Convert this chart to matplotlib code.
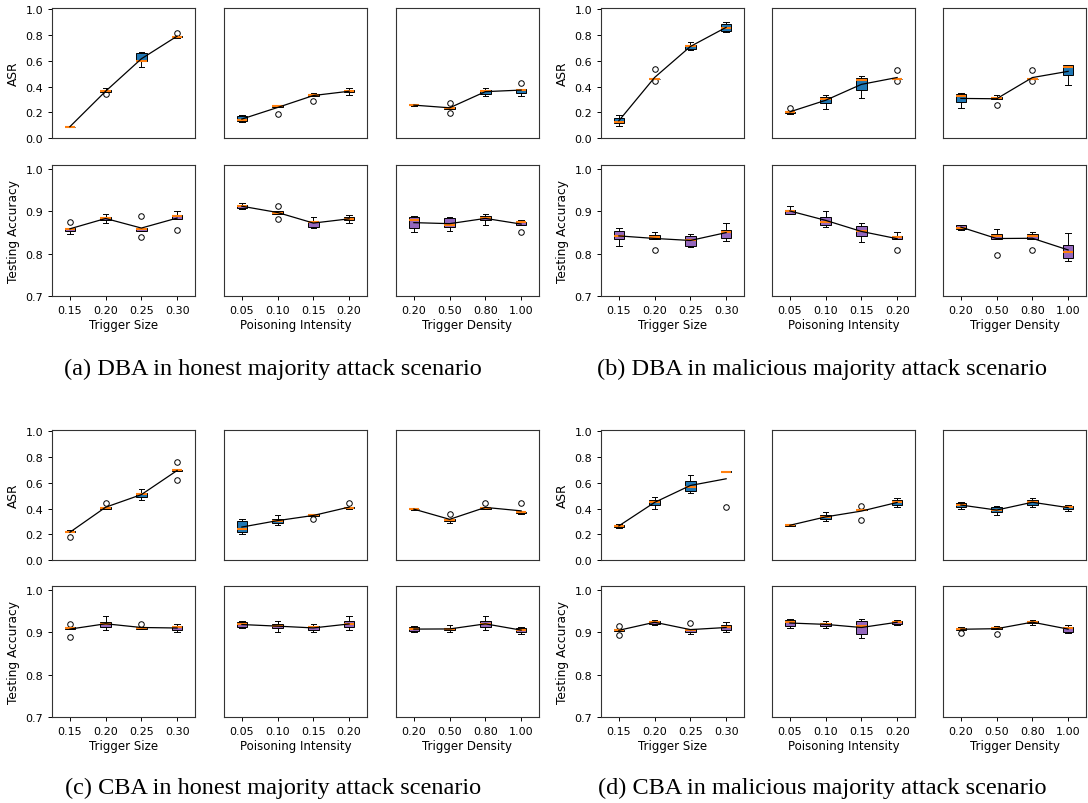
import matplotlib.pyplot as plt
import numpy as np

# --- DATA (5 runs per setting, read off the boxes) ---
# (a) DBA, honest majority
dba_h_asr_size = [[0.085, 0.087, 0.088, 0.089, 0.090], [0.34, 0.36, 0.362, 0.37, 0.385],
                  [0.55, 0.60, 0.60, 0.66, 0.667], [0.78, 0.785, 0.787, 0.79, 0.815]]
dba_h_asr_int = [[0.125, 0.13, 0.136, 0.17, 0.175], [0.187, 0.24, 0.246, 0.255, 0.258],
                 [0.29, 0.33, 0.335, 0.345, 0.35], [0.335, 0.355, 0.364, 0.372, 0.39]]
dba_h_asr_den = [[0.25, 0.253, 0.256, 0.258, 0.26], [0.195, 0.228, 0.236, 0.242, 0.272],
                 [0.33, 0.345, 0.364, 0.372, 0.39], [0.33, 0.348, 0.375, 0.378, 0.43]]
dba_h_acc_size = [[0.847, 0.855, 0.858, 0.861, 0.874], [0.872, 0.88, 0.884, 0.888, 0.893],
                  [0.84, 0.855, 0.858, 0.862, 0.889], [0.857, 0.883, 0.89, 0.892, 0.9]]
dba_h_acc_int = [[0.906, 0.908, 0.912, 0.916, 0.92], [0.883, 0.895, 0.897, 0.9, 0.913],
                 [0.862, 0.864, 0.875, 0.876, 0.886], [0.872, 0.879, 0.882, 0.888, 0.892]]
dba_h_acc_den = [[0.852, 0.861, 0.88, 0.886, 0.889], [0.853, 0.863, 0.869, 0.884, 0.887],
                 [0.869, 0.88, 0.884, 0.89, 0.895], [0.852, 0.869, 0.874, 0.876, 0.88]]

# (b) DBA, malicious majority
dba_m_asr_size = [[0.095, 0.12, 0.125, 0.155, 0.175], [0.44, 0.457, 0.459, 0.461, 0.535],
                  [0.68, 0.69, 0.715, 0.725, 0.745], [0.82, 0.835, 0.858, 0.885, 0.9]]
dba_m_asr_int = [[0.188, 0.194, 0.2, 0.202, 0.232], [0.228, 0.275, 0.305, 0.322, 0.335],
                 [0.31, 0.375, 0.45, 0.47, 0.478], [0.443, 0.456, 0.459, 0.462, 0.53]]
dba_m_asr_den = [[0.232, 0.28, 0.33, 0.345, 0.35], [0.258, 0.3, 0.308, 0.322, 0.336],
                 [0.441, 0.456, 0.459, 0.462, 0.53], [0.415, 0.487, 0.552, 0.565, 0.57]]
dba_m_acc_size = [[0.819, 0.835, 0.843, 0.853, 0.861], [0.808, 0.836, 0.84, 0.845, 0.852],
                  [0.817, 0.819, 0.833, 0.842, 0.846], [0.831, 0.838, 0.852, 0.856, 0.873]]
dba_m_acc_int = [[0.894, 0.895, 0.9, 0.904, 0.913], [0.863, 0.869, 0.875, 0.886, 0.902],
                 [0.828, 0.843, 0.855, 0.865, 0.873], [0.808, 0.836, 0.84, 0.843, 0.851]]
dba_m_acc_den = [[0.857, 0.859, 0.862, 0.868, 0.869], [0.796, 0.836, 0.843, 0.847, 0.858],
                 [0.808, 0.836, 0.841, 0.846, 0.852], [0.782, 0.79, 0.803, 0.821, 0.849]]

# (c) CBA, honest majority
cba_h_asr_size = [[0.18, 0.215, 0.22, 0.228, 0.235], [0.395, 0.40, 0.405, 0.41, 0.44],
                  [0.47, 0.49, 0.51, 0.52, 0.55], [0.62, 0.695, 0.70, 0.702, 0.76]]
cba_h_asr_int = [[0.20, 0.22, 0.24, 0.30, 0.32], [0.27, 0.29, 0.30, 0.32, 0.35],
                 [0.32, 0.345, 0.35, 0.355, 0.36], [0.398, 0.402, 0.405, 0.41, 0.44]]
cba_h_asr_den = [[0.392, 0.394, 0.395, 0.397, 0.398], [0.29, 0.30, 0.31, 0.32, 0.36],
                 [0.395, 0.40, 0.403, 0.405, 0.44], [0.36, 0.362, 0.372, 0.375, 0.44]]
cba_h_acc_size = [[0.89, 0.908, 0.91, 0.912, 0.92], [0.906, 0.914, 0.92, 0.925, 0.938],
                  [0.908, 0.909, 0.91, 0.911, 0.921], [0.90, 0.906, 0.912, 0.915, 0.92]]
cba_h_acc_int = [[0.91, 0.913, 0.92, 0.924, 0.927], [0.902, 0.91, 0.915, 0.92, 0.928],
                 [0.90, 0.906, 0.912, 0.915, 0.921], [0.905, 0.912, 0.92, 0.926, 0.938]]
cba_h_acc_den = [[0.901, 0.904, 0.908, 0.912, 0.915], [0.90, 0.905, 0.908, 0.911, 0.918],
                 [0.905, 0.913, 0.92, 0.926, 0.938], [0.896, 0.902, 0.906, 0.91, 0.914]]

# (d) CBA, malicious majority
cba_m_asr_size = [[0.25, 0.255, 0.265, 0.275, 0.28], [0.40, 0.43, 0.45, 0.468, 0.49],
                  [0.52, 0.535, 0.57, 0.61, 0.66], [0.41, 0.68, 0.685, 0.69, 0.69]]
cba_m_asr_int = [[0.265, 0.268, 0.27, 0.272, 0.274], [0.30, 0.32, 0.335, 0.35, 0.37],
                 [0.31, 0.385, 0.39, 0.395, 0.42], [0.41, 0.43, 0.45, 0.465, 0.48]]
cba_m_asr_den = [[0.40, 0.415, 0.43, 0.44, 0.45], [0.35, 0.37, 0.39, 0.41, 0.42],
                 [0.41, 0.43, 0.45, 0.468, 0.485], [0.38, 0.395, 0.41, 0.42, 0.43]]
cba_m_acc_size = [[0.895, 0.903, 0.905, 0.907, 0.916], [0.918, 0.921, 0.925, 0.927, 0.93],
                  [0.896, 0.901, 0.905, 0.909, 0.923], [0.90, 0.905, 0.912, 0.917, 0.925]]
cba_m_acc_int = [[0.91, 0.915, 0.925, 0.93, 0.932], [0.91, 0.916, 0.92, 0.922, 0.928],
                 [0.888, 0.896, 0.915, 0.928, 0.932], [0.918, 0.921, 0.925, 0.927, 0.93]]
cba_m_acc_den = [[0.898, 0.907, 0.909, 0.911, 0.913], [0.897, 0.908, 0.911, 0.913, 0.916],
                 [0.918, 0.922, 0.925, 0.927, 0.93], [0.898, 0.901, 0.91, 0.914, 0.917]]

SIZE_TICKS = ['0.15', '0.20', '0.25', '0.30']
INTENSITY_TICKS = ['0.05', '0.10', '0.15', '0.20']
DENSITY_TICKS = ['0.20', '0.50', '0.80', '1.00']
XLABELS = ['Trigger Size', 'Poisoning Intensity', 'Trigger Density']
CAPTIONS = ['(a) DBA in honest majority attack scenario',
            '(b) DBA in malicious majority attack scenario',
            '(c) CBA in honest majority attack scenario',
            '(d) CBA in malicious majority attack scenario']

# --- LAYOUT (pixels) ---
W, H = 1088, 804
COL_X = [[52, 224, 396], [601, 772, 943]]
ROW_Y = [[9, 166], [431, 587]]
AX_W, AX_H = 143, 131
CAPTION_Y = [369, 788]

fig = plt.figure(figsize=(W / 100, H / 100), dpi=100)


def px_axes(x, y, w, h):
    return fig.add_axes([x / W, 1 - (y + h) / H, w / W, h / H])


def draw_box(ax, runs, color):
    pos = np.arange(1, len(runs) + 1)
    ax.boxplot(runs, positions=pos, widths=0.3, patch_artist=True,
               boxprops=dict(facecolor=color, edgecolor='black', linewidth=0.7),
               medianprops=dict(color='#ff7f0e', linewidth=1.5),
               whiskerprops=dict(linewidth=0.7), capprops=dict(linewidth=0.7),
               flierprops=dict(marker='o', markersize=4, markerfacecolor='none',
                               markeredgewidth=0.7))
    ax.plot(pos, [np.mean(r) for r in runs], color='black', lw=0.9, zorder=4)
    ax.set_xlim(0.5, 4.5)
    for s in ax.spines.values():
        s.set_linewidth(0.8)
        s.set_color('#333333')
    ax.tick_params(labelsize=8, width=0.7, length=3)


panels = [
    ([dba_h_asr_size, dba_h_asr_int, dba_h_asr_den], [dba_h_acc_size, dba_h_acc_int, dba_h_acc_den]),
    ([dba_m_asr_size, dba_m_asr_int, dba_m_asr_den], [dba_m_acc_size, dba_m_acc_int, dba_m_acc_den]),
    ([cba_h_asr_size, cba_h_asr_int, cba_h_asr_den], [cba_h_acc_size, cba_h_acc_int, cba_h_acc_den]),
    ([cba_m_asr_size, cba_m_asr_int, cba_m_asr_den], [cba_m_acc_size, cba_m_acc_int, cba_m_acc_den]),
]
tick_sets = [SIZE_TICKS, INTENSITY_TICKS, DENSITY_TICKS]

for p, (asr_list, acc_list) in enumerate(panels):
    xs = COL_X[p % 2]
    ys = ROW_Y[p // 2]
    for c in range(3):
        # ASR row
        ax = px_axes(xs[c], ys[0], AX_W, AX_H - 1)
        draw_box(ax, asr_list[c], '#1f77b4')
        ax.set_ylim(0, 1.01)
        ax.set_xticks([])
        if c == 0:
            ax.set_yticks(np.arange(0, 1.01, 0.2))
            ax.set_ylabel('ASR', fontsize=8.8)
        else:
            ax.set_yticks([])

        # testing accuracy row
        ax = px_axes(xs[c], ys[1], AX_W, AX_H)
        draw_box(ax, acc_list[c], '#9467bd')
        ax.set_ylim(0.7, 1.01)
        ax.set_xticks(np.arange(1, 5))
        ax.set_xticklabels(tick_sets[c])
        ax.set_xlabel(XLABELS[c], fontsize=8.5, labelpad=2)
        if c == 0:
            ax.set_yticks([0.7, 0.8, 0.9, 1.0])
            ax.set_ylabel('Testing Accuracy', fontsize=8.8)
        else:
            ax.set_yticks([])

    cx = (xs[0] - 52 + 273) / W
    fig.text(cx, 1 - CAPTION_Y[p // 2] / H, CAPTIONS[p], ha='center', va='center',
             fontsize=17.5, family=['Liberation Serif', 'DejaVu Serif'])

fig.savefig('out.png', dpi=100)
